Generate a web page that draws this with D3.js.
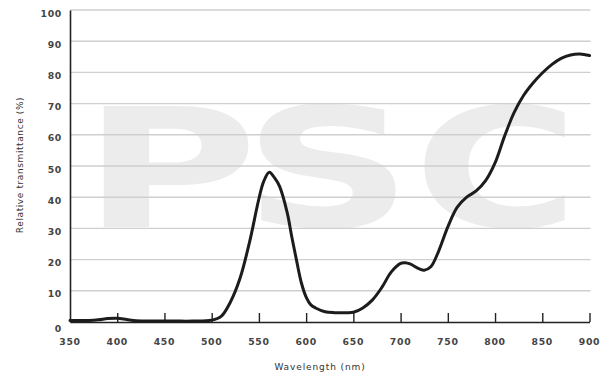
<!DOCTYPE html>
<html>
<head>
<meta charset="utf-8">
<script src="https://cdn.jsdelivr.net/npm/d3@7"></script>
<style>
  html, body { margin: 0; padding: 0; background: #fff; }
  svg { display: block; }
</style>
</head>
<body>
<svg id="chart" width="611" height="378"></svg>
<script>
// Transmission spectrum (wavelength in nm, relative transmittance in %)
const wavelengths = [350, 370, 380, 390, 400, 410, 420, 440, 460, 480, 500, 510, 520, 530, 540, 550, 555, 561, 567, 572, 580, 585, 590, 595, 600, 605, 610, 620, 630, 640, 650, 660, 670, 680, 690, 700, 705, 710, 720, 725, 732, 740, 750, 760, 770, 780, 790, 800, 810, 820, 830, 840, 850, 860, 870, 880, 890, 900];
const transmittance = [0.5, 0.5, 0.7, 1.1, 1.2, 0.8, 0.4, 0.3, 0.3, 0.3, 0.6, 1.8, 6.5, 14, 25.5, 39.5, 45, 48, 46, 43.4, 35, 27, 19.5, 12.5, 8, 5.5, 4.5, 3.3, 3, 3, 3.1, 4.5, 7, 11, 16, 18.8, 19, 18.6, 17, 16.6, 17.7, 22.5, 30.5, 36.8, 40, 42, 45.3, 51, 59.5, 67, 72.5, 76.5, 79.8, 82.5, 84.5, 85.6, 85.9, 85.4];
const xTicks = [350, 400, 450, 500, 550, 600, 650, 700, 750, 800, 850, 900];
const yTicks = [0, 10, 20, 30, 40, 50, 60, 70, 80, 90, 100];
const watermarkLetters = ["P", "S", "C"];

const svg = d3.select("#chart");
const x = d3.scaleLinear().domain([350, 900]).range([70, 589.5]);
const y = d3.scaleLinear().domain([0, 100]).range([322, 10]);

// faint logo lettering behind the plot
const wm = svg.append("g").attr("fill", "#ececec");
const letterCenters = [170, 328, 496];
const letterStretch = [1.45, 1.42, 1.36];
watermarkLetters.forEach((ch, i) => {
  wm.append("text")
    .attr("transform", `translate(${letterCenters[i]},227) scale(${letterStretch[i]},1)`)
    .attr("text-anchor", "middle")
    .attr("font-family", "'DejaVu Sans', Verdana, sans-serif")
    .attr("font-weight", "bold")
    .attr("font-size", 166)
    .text(ch);
});

// horizontal gridlines
svg.append("g")
  .selectAll("line")
  .data(yTicks.filter(d => d > 0))
  .join("line")
  .attr("x1", x(350)).attr("x2", x(900) + 1)
  .attr("y1", d => y(d)).attr("y2", d => y(d))
  .attr("stroke", "#cfcfcf").attr("stroke-width", 1.4);

// x axis: baseline with inward tick marks
const xAxis = d3.axisBottom(x).tickValues(xTicks.slice(1)).tickSizeInner(-9).tickSizeOuter(0).tickFormat("");
const gx = svg.append("g").attr("transform", `translate(0,${y(0)})`).call(xAxis);
gx.select(".domain").attr("stroke", "#222").attr("stroke-width", 1.6);
gx.selectAll(".tick line").attr("stroke", "#222").attr("stroke-width", 1.4);

// y axis line
const yAxis = d3.axisLeft(y).tickValues([]).tickSizeOuter(0);
const gy = svg.append("g").attr("transform", `translate(${x(350)},0)`).call(yAxis);
gy.select(".domain").attr("stroke", "#222").attr("stroke-width", 1.6);

// tick labels
const labelFont = "'DejaVu Sans', Verdana, sans-serif";
svg.append("g")
  .selectAll("text")
  .data(xTicks)
  .join("text")
  .attr("x", d => x(d)).attr("y", 344.5)
  .attr("text-anchor", "middle")
  .attr("font-family", labelFont).attr("font-weight", "bold")
  .attr("font-size", 9.3).attr("letter-spacing", 0.7)
  .attr("fill", "#444")
  .text(d => d);

svg.append("g")
  .selectAll("text")
  .data(yTicks)
  .join("text")
  .attr("x", 62).attr("y", d => y(d) + (d === 0 ? 9.5 : 6.5))
  .attr("text-anchor", "end")
  .attr("font-family", labelFont).attr("font-weight", "bold")
  .attr("font-size", 9.3).attr("letter-spacing", 0.7)
  .attr("fill", "#444")
  .text(d => d);

// axis titles
svg.append("text")
  .attr("x", 320).attr("y", 370)
  .attr("text-anchor", "middle")
  .attr("font-family", labelFont).attr("font-size", 9)
  .attr("letter-spacing", 0.9)
  .attr("fill", "#333")
  .text("Wavelength (nm)");

svg.append("text")
  .attr("transform", "translate(23,165) rotate(-90)")
  .attr("text-anchor", "middle")
  .attr("font-family", labelFont).attr("font-size", 9)
  .attr("letter-spacing", 0.6)
  .attr("fill", "#333")
  .text("Relative transmittance (%)");

// spectrum curve
const points = wavelengths.map((w, i) => [w, transmittance[i]]);
const line = d3.line()
  .x(d => x(d[0]))
  .y(d => y(d[1]))
  .curve(d3.curveCatmullRom.alpha(0.5));
svg.append("path")
  .datum(points)
  .attr("d", line)
  .attr("fill", "none")
  .attr("stroke", "#1c1c1c")
  .attr("stroke-width", 3)
  .attr("stroke-linejoin", "round")
  .attr("stroke-linecap", "round");
</script>
</body>
</html>
